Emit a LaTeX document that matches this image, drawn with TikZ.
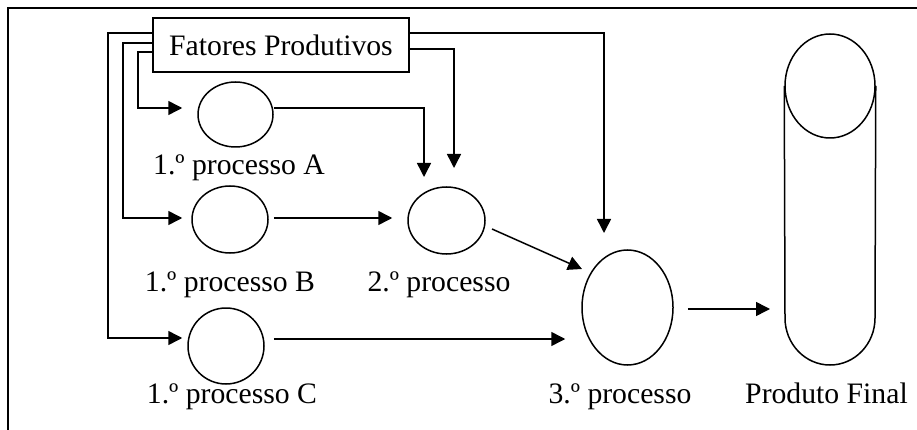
\documentclass[tikz,border=0pt]{standalone}
\usepackage{fontspec}
\setmainfont{Liberation Serif}
\usetikzlibrary{shapes.geometric,arrows.meta,calc}
\begin{document}
\begin{tikzpicture}[x=1pt,y=-1pt,line width=1.5pt,
  proc/.style={draw,ellipse,inner sep=0pt},
  lbl/.style={anchor=base,inner sep=0pt,font=\fontsize{29.7}{32}\selectfont},
  arr/.style={-{Triangle[length=14pt,width=14pt]}}]
\useasboundingbox (0,0) rectangle (917,430);
% outer frame (top and left)
\draw (8,430) -- (8,8) -- (917,8);
% box
\node[draw,rectangle,minimum width=256pt,minimum height=54pt,inner sep=0pt,
  font=\fontsize{29.7}{32}\selectfont] (fp) at (281,45) {Fatores Produtivos};
% processes
\node[proc,minimum width=75pt,minimum height=65pt] (A) at (235.5,114.5) {};
\node[proc,minimum width=76pt,minimum height=67pt] (B) at (230,219.5) {};
\node[proc,minimum width=77pt,minimum height=67pt] (P2) at (446.5,220.5) {};
\node[proc,minimum width=76pt,minimum height=76pt] (C) at (226,346) {};
\node[proc,minimum width=91pt,minimum height=115pt] (P3) at (627.5,307.5) {};
\node[proc,minimum width=90pt,minimum height=104pt] (PF) at (830,86) {};
\draw (PF.west) -- (785,318) arc[start angle=180,end angle=360,x radius=45pt,y radius=47pt] -- (PF.east);
% labels
\node[lbl] (lA) at (239,175) {1.º processo A};
\node[lbl] (lB) at (230,291) {1.º processo B};
\node[lbl] (l2) at (439,291) {2.º processo};
\node[lbl] (lC) at (232,403) {1.º processo C};
\node[lbl] (l3) at (620,403) {3.º processo};
\node[lbl] (lPF) at (826.5,403) {Produto Final};
% connectors from Fatores Produtivos
\coordinate (c1) at (108,338);
\coordinate (c2) at (123,218);
\coordinate (c3) at (138,108);
\draw[arr] (fp.west |- 0,33) -| (c1) -- ([xshift=-5pt]C.west |- c1);
\draw[arr] (fp.west |- 0,43) -| (c2) -- ([xshift=-9pt]B.west |- c2);
\draw[arr] (fp.west |- 0,52) -| (c3) -- ([xshift=-15pt]A.west |- c3);
\coordinate (c4) at (604,233);
\coordinate (c5) at (454,168);
\draw[arr] (fp.east |- 0,33) -| (c4);
\draw[arr] (fp.east |- 0,49) -| (c5);
% process connectors
\coordinate (c6) at (424,177);
\draw[arr] (A.east |- 0,108) -| (c6);
\draw[arr] ([xshift=5pt]B.east |- 0,218) -- ([xshift=-15pt]P2.west |- 0,218);
\draw[arr] (492,229) -- (582,269);
\draw[arr] ([xshift=9pt]C.east |- 0,339) -- ([xshift=-16pt]P3.west |- 0,339);
\draw[arr] ([xshift=14pt]P3.east |- 0,309) -- (770,309);
\end{tikzpicture}
\end{document}
